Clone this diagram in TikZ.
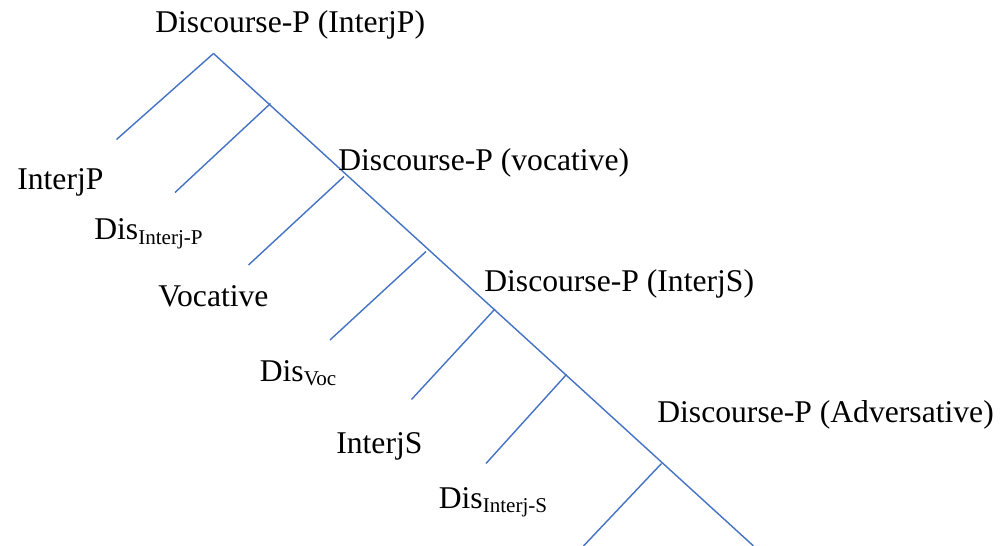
\documentclass[tikz,border=0pt]{standalone}
\usepackage{fontspec}
\setmainfont{Liberation Serif}
\definecolor{treeblue}{RGB}{68,114,196}
\newcommand{\dsub}[1]{{\fontsize{12}{12}\selectfont\raisebox{-2.3pt}{#1}}}

\begin{document}
\begin{tikzpicture}[
  lbl/.style={anchor=base west, inner sep=0pt, font=\fontsize{18}{22}\selectfont},
  branch/.style={draw=treeblue, line width=0.8pt}]
\useasboundingbox (0,0) rectangle (20.14,10.92);

% spine of the tree
\coordinate (top) at (4.27,9.85);
\coordinate (spineend) at (15.07,0);
\draw[branch] (top) -- (spineend);

% left daughters: junction on the spine, lower end
\coordinate (j1) at (4.27,9.85);   \coordinate (e1) at (2.33,8.13);
\coordinate (j2) at (5.41,8.85);   \coordinate (e2) at (3.50,7.07);
\coordinate (j3) at (6.88,7.39);   \coordinate (e3) at (4.97,5.62);
\coordinate (j4) at (8.52,5.89);   \coordinate (e4) at (6.60,4.12);
\coordinate (j5) at (9.90,4.74);   \coordinate (e5) at (8.23,2.93);
\coordinate (j6) at (11.33,3.43);  \coordinate (e6) at (9.72,1.65);
\coordinate (j7) at (13.23,1.65);  \coordinate (e7) at (11.67,0);
\foreach \i in {1,...,7}
  \draw[branch] (j\i) -- (e\i);

\node[lbl] (dp1) at (3.10,10.26) {Discourse-P (InterjP)};
\node[lbl] (interjp) at (0.34,7.12) {InterjP};
\node[lbl] (dis1) at (1.88,6.12) {Dis\dsub{Interj-P}};

\node[lbl] (dp2) at (6.76,7.51) {Discourse-P (vocative)};
\node[lbl] (voc) at (3.16,4.79) {Vocative};
\node[lbl] (dis2) at (5.19,3.29) {Dis\dsub{Voc}};

\node[lbl] (dp3) at (9.68,5.09) {Discourse-P (InterjS)};
\node[lbl] (interjs) at (6.72,1.84) {InterjS};
\node[lbl] (dis3) at (8.77,0.75) {Dis\dsub{Interj-S}};

\node[lbl] (dp4) at (13.14,2.47) {Discourse-P (Adversative)};
\end{tikzpicture}
\end{document}
